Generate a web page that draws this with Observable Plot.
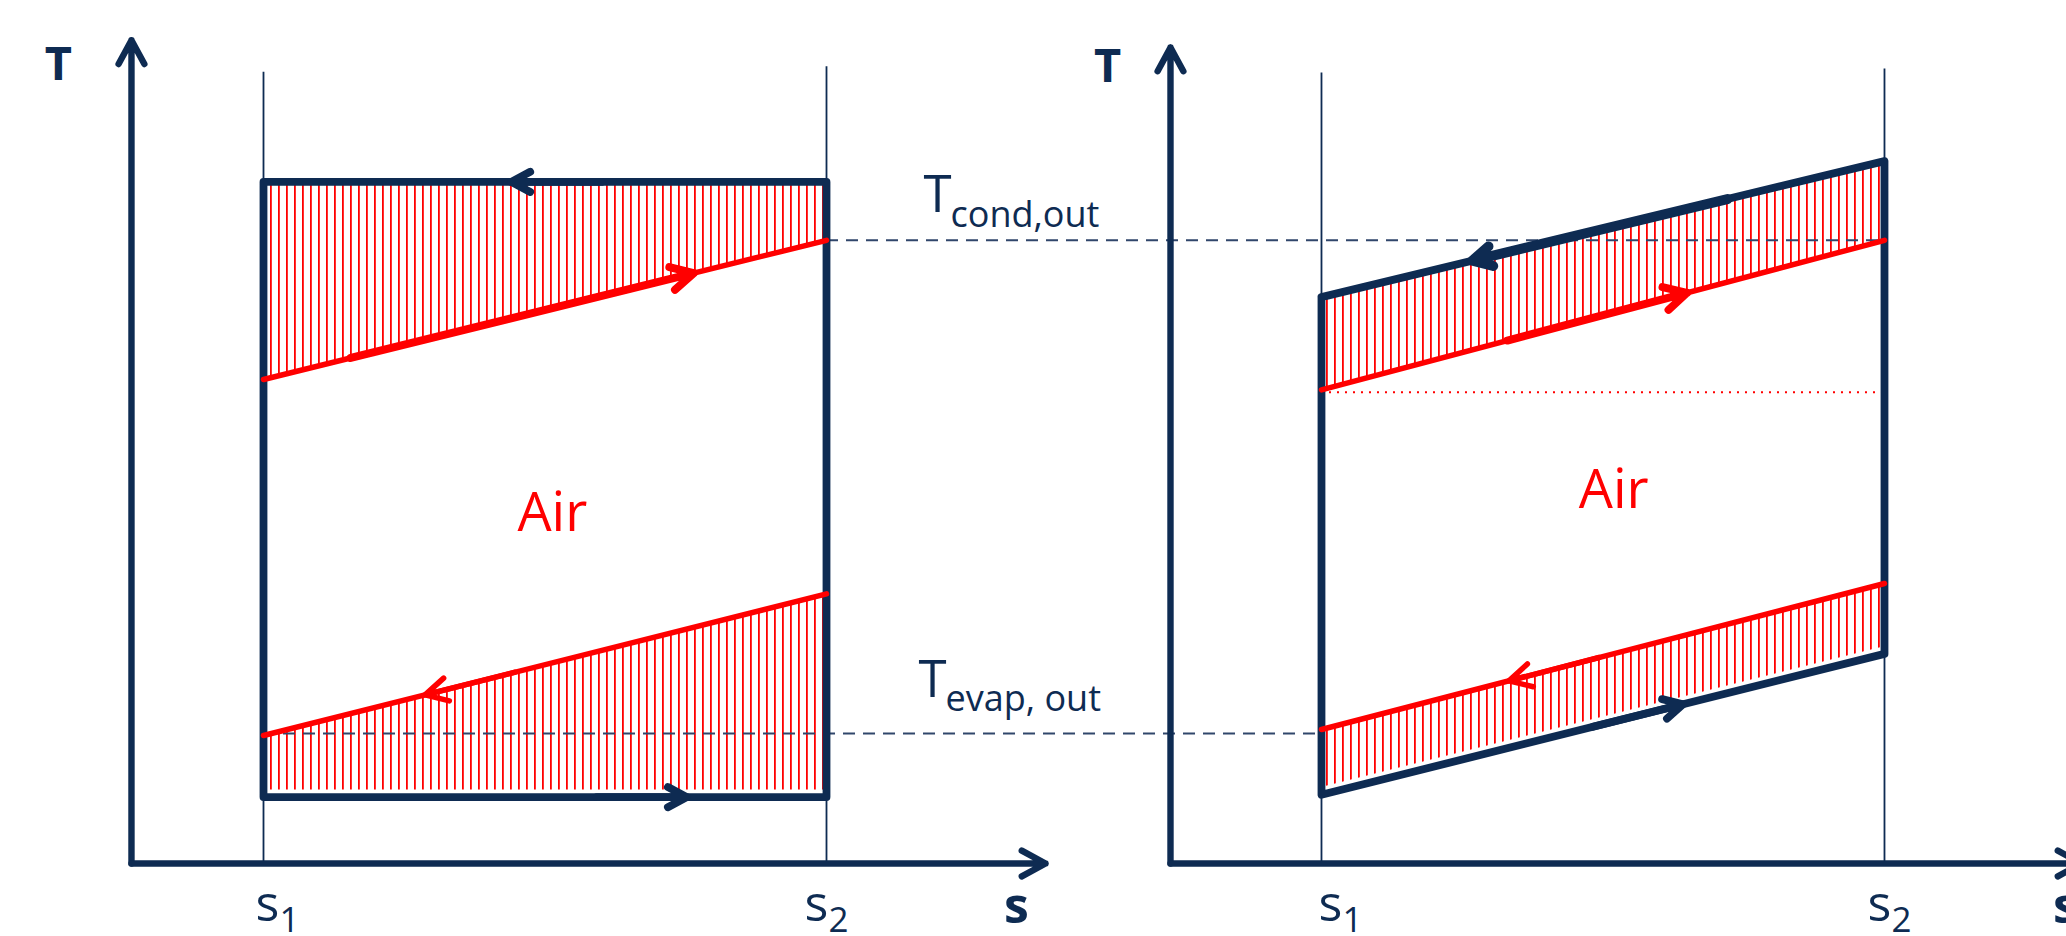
<!DOCTYPE html>
<html>
<head>
<meta charset="utf-8">
<script src="https://cdn.jsdelivr.net/npm/d3@7"></script>
<script src="https://cdn.jsdelivr.net/npm/@observablehq/plot@0.6"></script>
<style>
  html, body { margin: 0; padding: 0; background: #fff; overflow: hidden; }
  #chart svg { display: block; }
</style>
</head>
<body>
<div id="chart"></div>
<script>
// T–s diagrams of a heat pump exchanging heat with air.
// Left: isothermal condensation/evaporation. Right: gliding refrigerant temperatures.

// ---- data ----
const panels = ["isothermal", "glide"];
const sBounds = [1, 2];                 // s1, s2
const sTickLabels = ["1", "2"];
// refrigerant temperatures at s1 and s2 (one pair per panel)
const condensingT = [[85.2, 85.2], [70.8, 87.8]];
const evaporatingT = [[8.3, 8.3], [8.6, 26.2]];
// air temperatures at s1 and s2
const airHotT = [[60.5, 77.9], [59.2, 77.9]];
const airColdT = [[16.0, 33.7], [16.75, 35.0]];
const airInletT = 58.9;
const TcondOut = 77.9;
const TevapOut = 16.25;
// flow direction markers: tail and head entropy along each path
const flowArrows = [
  {panel: 0, path: "condensing", tail: 1.60, head: 1.44, bold: false},
  {panel: 0, path: "airHot", tail: 1.155, head: 1.764, bold: true},
  {panel: 0, path: "airCold", tail: 1.447, head: 1.287, bold: false},
  {panel: 0, path: "evaporating", tail: 1.592, head: 1.752, bold: false},
  {panel: 1, path: "condensing", tail: 1.721, head: 1.268, bold: true},
  {panel: 1, path: "airHot", tail: 1.33, head: 1.649, bold: true},
  {panel: 1, path: "airCold", tail: 1.493, head: 1.333, bold: false},
  {panel: 1, path: "evaporating", tail: 1.482, head: 1.642, bold: false}
];

// ---- layout and style ----
const W = 2066, H = 936;
const navy = "#0e2b52";
const red = "#ff0000";
const dashColor = "#30466b";
const font = "'Open Sans', 'Noto Sans', sans-serif";
const layout = [
  {shift: 0, axisS: 0.7655, axisEndS: 2.389, axisTopT: 102.9, tDx: -73, tDy: 39.6, sDx: -29,
   tickDx: [-8, -22], sLineTop: [98.9, 99.6], airS: 1.513, airT: 41.6},
  {shift: 1.8792, axisS: 0.7318, axisEndS: 2.35, axisTopT: 102.0, tDx: -63, tDy: 34, sDx: -16,
   tickDx: [-3, -17], sLineTop: [98.8, 99.3], airS: 1.519, airT: 44.4}
];
const paths = {condensing: condensingT, evaporating: evaporatingT, airHot: airHotT, airCold: airColdT};
const hatchGap = 0.9;

const gx = (i, s) => s + layout[i].shift;
const at = (pair, s) => pair[0] + (pair[1] - pair[0]) * (s - sBounds[0]) / (sBounds[1] - sBounds[0]);

// rows for the marks
const hatchRows = panels.flatMap((p, i) => sBounds.flatMap((s, k) => [
  {i, band: "hot", s, lo: airHotT[i][k], hi: condensingT[i][k]},
  {i, band: "cold", s, lo: evaporatingT[i][k] + hatchGap, hi: airColdT[i][k]}
]));
const cycleRows = panels.flatMap((p, i) => [
  {i, s: sBounds[0], T: condensingT[i][0]},
  {i, s: sBounds[1], T: condensingT[i][1]},
  {i, s: sBounds[1], T: evaporatingT[i][1]},
  {i, s: sBounds[0], T: evaporatingT[i][0]},
  {i, s: sBounds[0], T: condensingT[i][0]}
]);
const airRows = panels.flatMap((p, i) => sBounds.flatMap((s, k) => [
  {i, line: "hot", s, T: airHotT[i][k]},
  {i, line: "cold", s, T: airColdT[i][k]}
]));

const marks = [];

// hatched heat-exchange bands
marks.push(Plot.areaY(hatchRows, {
  x: d => gx(d.i, d.s), y1: "lo", y2: "hi", z: d => d.i + d.band, fill: "url(#air-hatch)"
}));

// thin verticals at s1 and s2
panels.forEach((p, i) => {
  marks.push(Plot.ruleX(sBounds, {
    x: s => gx(i, s), y1: () => 0, y2: (s, k) => layout[i].sLineTop[k],
    stroke: navy, strokeWidth: 1.8
  }));
});

// outlet temperature guides
marks.push(Plot.ruleY([TcondOut], {
  y: d => d, x1: () => gx(0, sBounds[1]), x2: () => gx(1, sBounds[1]),
  stroke: dashColor, strokeWidth: 2, strokeDasharray: "12,8"
}));
marks.push(Plot.ruleY([TevapOut], {
  y: d => d, x1: () => gx(0, sBounds[0]), x2: () => gx(1, sBounds[0]),
  stroke: dashColor, strokeWidth: 2, strokeDasharray: "12,8"
}));
marks.push(Plot.ruleY([airInletT], {
  y: d => d, x1: () => gx(1, sBounds[0]), x2: () => gx(1, sBounds[1]),
  stroke: red, strokeWidth: 2, strokeDasharray: "2,6"
}));

// refrigerant cycle
marks.push(Plot.line(cycleRows, {
  x: d => gx(d.i, d.s), y: "T", z: "i", stroke: navy, strokeWidth: 7.8,
  strokeLinejoin: "round", strokeLinecap: "round"
}));

// air lines
marks.push(Plot.line(airRows, {
  x: d => gx(d.i, d.s), y: "T", z: d => d.i + d.line, stroke: red, strokeWidth: 5.5
}));

// flow direction arrows
flowArrows.forEach(a => {
  const isAir = a.path.startsWith("air");
  const sw = isAir ? (a.bold ? 8 : 5.5) : (a.bold ? 10 : 7.8);
  const wing = isAir ? 25 : 21.5;
  const pair = paths[a.path][a.panel];
  marks.push(Plot.arrow([a], {
    x1: d => gx(d.panel, d.tail), y1: d => at(pair, d.tail),
    x2: d => gx(d.panel, d.head), y2: d => at(pair, d.head),
    stroke: isAir ? red : navy, strokeWidth: sw,
    headLength: 1.5 * wing / sw, headAngle: 56,
    strokeLinecap: "round", strokeLinejoin: "round"
  }));
});

// axes with arrowheads
panels.forEach((p, i) => {
  const L = layout[i];
  marks.push(Plot.arrow([p], {
    x1: () => gx(i, L.axisS), y1: () => 0, x2: () => gx(i, L.axisS), y2: () => L.axisTopT,
    stroke: navy, strokeWidth: 6.4, headLength: 1.5 * 27 / 6.4, headAngle: 57,
    strokeLinecap: "round", strokeLinejoin: "round"
  }));
  marks.push(Plot.arrow([p], {
    x1: () => gx(i, L.axisS), y1: () => 0, x2: () => gx(i, L.axisEndS), y2: () => 0,
    stroke: navy, strokeWidth: 6.4, headLength: 1.5 * 27 / 6.4, headAngle: 57,
    strokeLinecap: "round", strokeLinejoin: "round"
  }));
});

// axis titles, tick labels and "Air"
panels.forEach((p, i) => {
  const L = layout[i];
  marks.push(Plot.text(["T"], {
    x: () => gx(i, L.axisS), y: () => L.axisTopT, text: d => d, dx: L.tDx, dy: L.tDy,
    lineAnchor: "bottom", textAnchor: "middle", fontSize: 47, fontWeight: 700, fill: navy
  }));
  marks.push(Plot.text(["s"], {
    x: () => gx(i, L.axisEndS), y: () => 0, text: d => d, dx: L.sDx, dy: 59,
    lineAnchor: "bottom", textAnchor: "middle", fontSize: 50, fontWeight: 700, fill: navy
  }));
  sBounds.forEach((s, k) => {
    marks.push(Plot.text(["s"], {
      x: () => gx(i, s), y: () => 0, text: d => d, dx: L.tickDx[k], dy: 57,
      lineAnchor: "bottom", textAnchor: "start", fontSize: 50, fill: navy
    }));
    marks.push(Plot.text([sTickLabels[k]], {
      x: () => gx(i, s), y: () => 0, text: d => d, dx: L.tickDx[k] + 24, dy: 68.5,
      lineAnchor: "bottom", textAnchor: "start", fontSize: 35, fill: navy
    }));
  });
  marks.push(Plot.text(["Air"], {
    x: () => gx(i, L.airS), y: () => L.airT, text: d => d,
    lineAnchor: "bottom", textAnchor: "middle", fontSize: 54, fill: red
  }));
});

// outlet temperature labels
const outletLabels = [
  {T: TcondOut, main: "T", sub: "cond,out", dx: 97, dy: -28.3, subDy: -13.3},
  {T: TevapOut, main: "T", sub: "evap, out", dx: 92, dy: -36.3, subDy: -22.3}
];
outletLabels.forEach(l => {
  marks.push(Plot.text([l], {
    x: () => gx(0, sBounds[1]), y: d => d.T, text: d => d.main, dx: l.dx, dy: l.dy,
    lineAnchor: "bottom", textAnchor: "start", fontSize: 51, fill: navy
  }));
  marks.push(Plot.text([l], {
    x: () => gx(0, sBounds[1]), y: d => d.T, text: d => d.sub, dx: l.dx + 27, dy: l.subDy,
    lineAnchor: "bottom", textAnchor: "start", fontSize: 36, fill: navy
  }));
});

const svg = Plot.plot({
  width: W,
  height: H,
  margin: 0,
  x: {domain: [1 - 263 / 563, 1 + (W - 263) / 563], axis: null},
  y: {domain: [-73 / 8, 863 / 8], axis: null},
  style: {background: "white", fontFamily: font, overflow: "hidden"},
  marks
});

// vertical red hatching used by the heat-exchange bands
const defs = d3.select(svg).insert("defs", ":first-child");
const pattern = defs.append("pattern")
  .attr("id", "air-hatch")
  .attr("patternUnits", "userSpaceOnUse")
  .attr("width", 8)
  .attr("height", 12)
  .attr("x", 6);
pattern.append("rect").attr("width", 1.8).attr("height", 12).attr("fill", red);

document.getElementById("chart").appendChild(svg);
</script>
</body>
</html>
